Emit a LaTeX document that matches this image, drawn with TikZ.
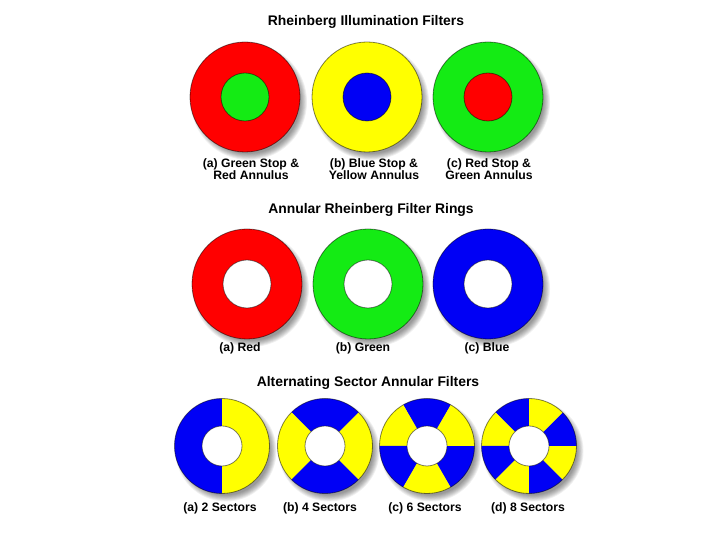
\documentclass[tikz,border=0pt]{standalone}
\usepackage{fontspec}
\setmainfont{Liberation Sans}
\definecolor{fred}{RGB}{255,0,0}
\definecolor{fgreen}{RGB}{20,235,20}
\definecolor{fblue}{RGB}{0,0,245}
\definecolor{fyellow}{RGB}{255,255,0}
\tikzset{
  ttl/.style={font=\bfseries\fontsize{13.9}{15}\selectfont, inner sep=0pt},
  lbl/.style={font=\bfseries\fontsize{12.2}{12.3}\selectfont, align=center, inner sep=0pt},
  rim/.style={draw=black, draw opacity=0.5, line width=0.8pt},
}
\newcommand{\shadowdisk}[3]{%
  \foreach \k in {0,...,7}{\fill[black, opacity=0.06] (#1+4,#2-5) circle[radius=#3+3-\k*0.9];}}
\newcommand{\ring}[6]{% x y R r outer inner
  \shadowdisk{#1}{#2}{#3}
  \fill[#5, rim] (#1,#2) circle[radius=#3];
  \fill[#6, rim] (#1,#2) circle[radius=#4];}
\newcommand{\sectors}[4]{% x y n start angle
  \shadowdisk{#1}{#2}{47.5}
  \pgfmathtruncatemacro{\nn}{#3-1}
  \foreach \i in {0,...,\nn}{
    \pgfmathsetmacro{\aa}{#4+\i*360/#3}
    \pgfmathsetmacro{\bb}{#4+(\i+1)*360/#3}
    \pgfmathtruncatemacro{\parity}{mod(\i,2)}
    \ifnum\parity=0 \def\col{fblue}\else\def\col{fyellow}\fi
    \fill[\col] (#1,#2) -- ++(\aa:47.5) arc[start angle=\aa, end angle=\bb, radius=47.5] -- cycle;
  }
  \draw[rim] (#1,#2) circle[radius=47.5];
  \fill[white, rim] (#1,#2) circle[radius=20];}
\begin{document}
\begin{tikzpicture}[x=1pt,y=1pt]
\useasboundingbox[fill=white] (0,0) rectangle (720,540);
% titles
\node[ttl] (t1) at (366,518) {Rheinberg Illumination Filters};
\node[ttl] (t2) at (371,330) {Annular Rheinberg Filter Rings};
\node[ttl] (t3) at (368,157) {Alternating Sector Annular Filters};
% top row
\ring{245}{443}{55}{24}{fred}{fgreen}
\ring{367}{443}{55}{24}{fyellow}{fblue}
\ring{488}{443}{55}{24}{fgreen}{fred}
\node[lbl] (l1a) at (251,371) {(a) Green Stop \&\\Red Annulus};
\node[lbl] (l1b) at (374,371) {(b) Blue Stop \&\\Yellow Annulus};
\node[lbl] (l1c) at (489,371) {(c) Red Stop \&\\Green Annulus};
% middle row
\ring{247}{256}{55}{24}{fred}{white}
\ring{368}{256}{55}{24}{fgreen}{white}
\ring{488}{256}{55}{24}{fblue}{white}
\node[lbl] (l2a) at (240,192) {(a) Red};
\node[lbl] (l2b) at (363,192) {(b) Green};
\node[lbl] (l2c) at (487,192) {(c) Blue};
% bottom row
\sectors{222}{94}{2}{90}
\sectors{325}{94}{4}{45}
\sectors{427}{94}{6}{60}
\sectors{529}{94}{8}{90}
\node[lbl] (l3a) at (220,32) {(a) 2 Sectors};
\node[lbl] (l3b) at (320,32) {(b) 4 Sectors};
\node[lbl] (l3c) at (425,32) {(c) 6 Sectors};
\node[lbl] (l3d) at (528,32) {(d) 8 Sectors};
\end{tikzpicture}
\end{document}
